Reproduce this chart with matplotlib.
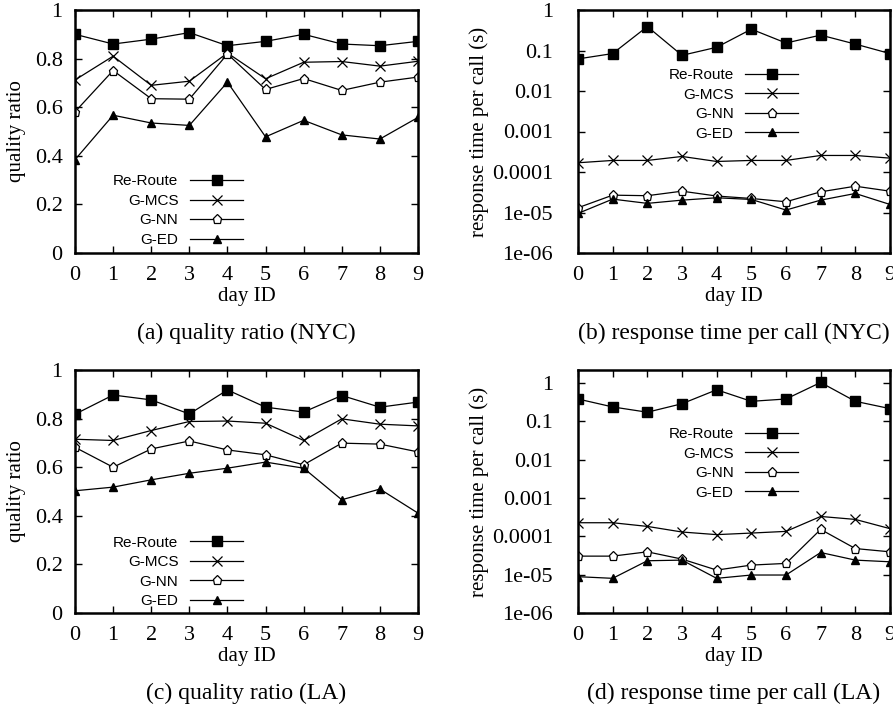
"""Quality ratio and response time per call, NYC and LA (four panels)."""

import matplotlib
matplotlib.use("Agg")
import matplotlib.pyplot as plt

days = list(range(10))
methods = ["Re-Route", "G-MCS", "G-NN", "G-ED"]

# (a) quality ratio, NYC
nyc_quality = {
    "Re-Route": [0.900, 0.860, 0.880, 0.907, 0.853, 0.871, 0.900, 0.860, 0.853, 0.871],
    "G-MCS": [0.712, 0.810, 0.690, 0.707, 0.823, 0.717, 0.785, 0.788, 0.769, 0.789],
    "G-NN": [0.581, 0.751, 0.635, 0.633, 0.819, 0.673, 0.718, 0.669, 0.703, 0.724],
    "G-ED": [0.384, 0.567, 0.535, 0.525, 0.703, 0.478, 0.546, 0.486, 0.469, 0.558],
}

# (b) response time per call (s), NYC
nyc_time = {
    "Re-Route": [0.062, 0.084, 0.39, 0.076, 0.12, 0.336, 0.153, 0.24, 0.144, 0.084],
    "G-MCS": [1.69e-4, 1.93e-4, 1.93e-4, 2.42e-4, 1.82e-4, 1.93e-4, 1.93e-4, 2.56e-4, 2.56e-4, 2.2e-4],
    "G-NN": [1.31e-5, 2.68e-5, 2.6e-5, 3.36e-5, 2.55e-5, 2.22e-5, 1.84e-5, 3.24e-5, 4.46e-5, 3.36e-5],
    "G-ED": [9.5e-6, 2.14e-5, 1.68e-5, 2.02e-5, 2.31e-5, 2.1e-5, 1.15e-5, 2.02e-5, 2.95e-5, 1.58e-5],
}

# (c) quality ratio, LA
la_quality = {
    "Re-Route": [0.818, 0.897, 0.877, 0.819, 0.918, 0.847, 0.827, 0.895, 0.847, 0.868],
    "G-MCS": [0.715, 0.710, 0.751, 0.788, 0.790, 0.781, 0.710, 0.799, 0.777, 0.770],
    "G-NN": [0.682, 0.600, 0.675, 0.708, 0.671, 0.651, 0.610, 0.699, 0.695, 0.663],
    "G-ED": [0.503, 0.518, 0.548, 0.575, 0.596, 0.621, 0.596, 0.466, 0.510, 0.411],
}

# (d) response time per call (s), LA
la_time = {
    "Re-Route": [0.385, 0.239, 0.174, 0.29, 0.67, 0.335, 0.385, 1.04, 0.335, 0.216],
    "G-MCS": [2.27e-4, 2.27e-4, 1.82e-4, 1.3e-4, 1.11e-4, 1.22e-4, 1.35e-4, 3.31e-4, 2.77e-4, 1.59e-4],
    "G-NN": [3.05e-5, 3.05e-5, 3.95e-5, 2.55e-5, 1.32e-5, 1.78e-5, 1.97e-5, 1.52e-4, 4.81e-5, 3.95e-5],
    "G-ED": [8.87e-6, 8.03e-6, 2.31e-5, 2.4e-5, 8.03e-6, 9.8e-6, 9.8e-6, 3.79e-5, 2.4e-5, 2.17e-5],
}

quality_ticks = [0, 0.2, 0.4, 0.6, 0.8, 1]
quality_labels = ["0", "0.2", "0.4", "0.6", "0.8", "1"]
time_ticks = [1e-6, 1e-5, 1e-4, 1e-3, 1e-2, 1e-1, 1]
time_labels = ["1e-06", "1e-05", "0.0001", "0.001", "0.01", "0.1", "1"]

captions = [
    "(a) quality ratio (NYC)",
    "(b) response time per call (NYC)",
    "(c) quality ratio (LA)",
    "(d) response time per call (LA)",
]

_STYLE = {
    "Re-Route": dict(marker="s", markersize=7, markerfacecolor="black"),
    "G-MCS": dict(marker="x", markersize=7, markeredgewidth=0.9),
    "G-NN": dict(marker="p", markersize=6.5, markerfacecolor="white", markeredgewidth=0.9),
    "G-ED": dict(marker="^", markersize=6, markerfacecolor="black"),
}

SERIF = "Liberation Serif"
SANS = "Liberation Sans"

fig = plt.figure(figsize=(8.93, 7.09), dpi=100)
W, H = 893, 709


def make_axes(left, top, right, bottom):
    return fig.add_axes([left / W, (H - bottom) / H, (right - left) / W, (bottom - top) / H])


panels = [
    (make_axes(75, 10, 418, 253), nyc_quality, False, 0.355, 0.513, 13),
    (make_axes(578, 10, 890, 253), nyc_time, True, 0.792, 0.731, 22),
    (make_axes(75, 370, 418, 613), la_quality, False, 0.350, 0.513, 13),
    (make_axes(578, 370, 890, 613), la_time, True, 0.796, 0.731, 22),
]

for i, (ax, data, logy, leg_y, leg_x, ypad) in enumerate(panels):
    for name in methods:
        ax.plot(days, data[name], color="black", linewidth=0.9, label=name, **_STYLE[name])

    ax.set_xlim(0, 9)
    ax.set_xticks(days)
    ax.set_xticklabels([str(d) for d in days], fontfamily=SERIF, fontsize=16)
    if logy:
        ax.set_yscale("log")
        ax.set_ylim(1e-6, 1 if i == 1 else 2.2)
        ax.set_yticks(time_ticks)
        ax.set_yticklabels(time_labels, fontfamily=SERIF, fontsize=16)
        ax.minorticks_off()
        ax.set_ylabel("response time per call (s)", fontfamily=SERIF, fontsize=15, labelpad=2)
    else:
        ax.set_ylim(0, 1)
        ax.set_yticks(quality_ticks)
        ax.set_yticklabels(quality_labels, fontfamily=SERIF, fontsize=16)
        ax.set_ylabel("quality ratio", fontfamily=SERIF, fontsize=15, labelpad=6)
    ax.set_xlabel("day ID", fontfamily=SERIF, fontsize=15, labelpad=2)

    ax.tick_params(axis="both", direction="in", length=5, width=1,
                   top=True, right=True)
    ax.tick_params(axis="x", pad=9)
    ax.tick_params(axis="y", pad=ypad - 4)
    for spine in ax.spines.values():
        spine.set_linewidth(1.8)

    ax.legend(loc="upper right", bbox_to_anchor=(leg_x, leg_y), frameon=False,
              markerfirst=False, borderpad=0, handlelength=3.5, handletextpad=0.75,
              labelspacing=0.36, prop={"family": SANS, "size": 11})

    ax.text(0.5, -0.33, captions[i], transform=ax.transAxes, ha="center", va="center",
            fontfamily=SERIF, fontsize=17)

fig.savefig("out.png", dpi=100)
